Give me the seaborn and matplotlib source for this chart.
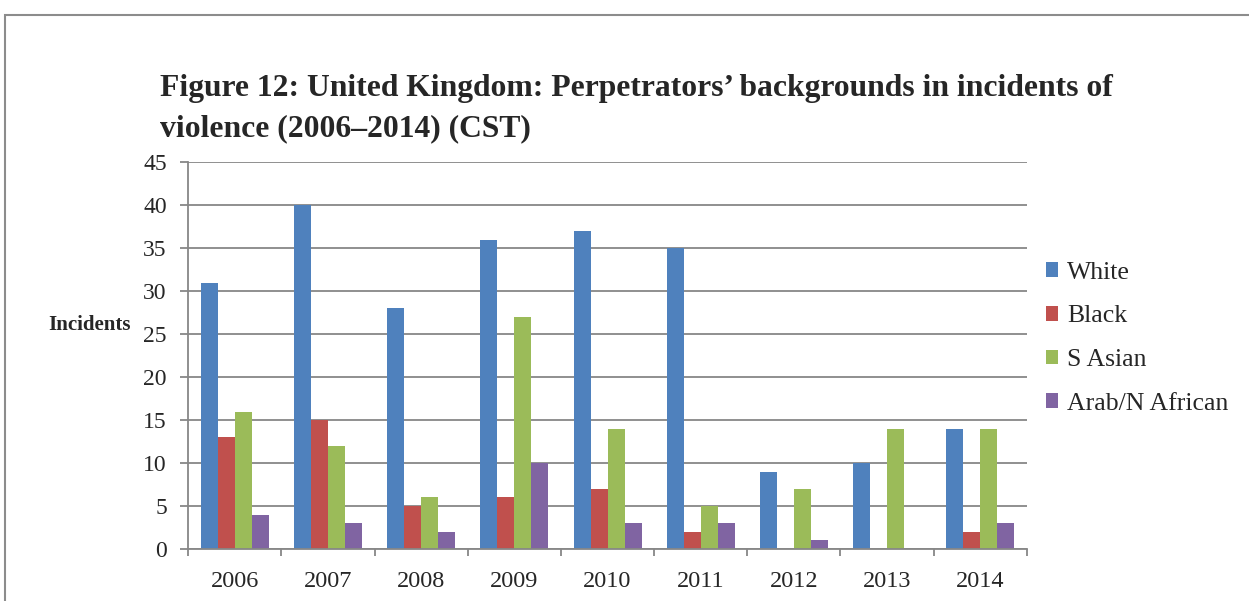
import seaborn as sns
import matplotlib.pyplot as plt
import pandas as pd
import numpy as np
from matplotlib.patches import Rectangle

years = ['2006', '2007', '2008', '2009', '2010', '2011', '2012', '2013', '2014']
white = [31, 40, 28, 36, 37, 35, 9, 10, 14]
black = [13, 15, 5, 6, 7, 2, 0, 0, 2]
s_asian = [16, 12, 6, 27, 14, 5, 7, 14, 14]
arab = [4, 3, 2, 10, 3, 3, 1, 0, 3]
groups = ['White', 'Black', 'S Asian', 'Arab/N African']
colors = ['#4F81BD', '#C0504D', '#9BBB59', '#8064A2']

data = pd.DataFrame({
    'year': years * 4,
    'group': np.repeat(groups, len(years)),
    'count': white + black + s_asian + arab,
})

sns.set_style('white')
plt.rcParams['font.family'] = ['Liberation Serif', 'DejaVu Serif']

fig = plt.figure(figsize=(12.49, 6.01), dpi=100)
ax = fig.add_axes([0.1508, 0.0865, 0.8220 - 0.1508, 0.7300 - 0.0865])

sns.barplot(data=data, x='year', y='count', hue='group', palette=colors,
            saturation=1, width=0.73, linewidth=0, ax=ax, legend=True)

grid_c = '#878787'
ax.set_ylim(0, 45)
ax.set_xlim(-0.5, len(years) - 0.5)
ax.set_yticks(np.arange(0, 46, 5))
ax.yaxis.grid(True, color=grid_c, linewidth=1.3)
ax.set_axisbelow(True)
for s in ['top', 'right']:
    ax.spines[s].set_visible(False)
for s in ['left', 'bottom']:
    ax.spines[s].set_color(grid_c)
    ax.spines[s].set_linewidth(1.3)

# category boundaries as major ticks, year labels on minor ticks
ax.set_xticks(np.arange(-0.5, len(years), 1))
ax.set_xticklabels([])
ax.set_xticks(np.arange(len(years)), minor=True)
ax.set_xticklabels(years, minor=True, fontsize=17.5)
ax.tick_params(axis='x', which='major', length=5, width=1.3, color=grid_c, direction='out', bottom=True)
ax.tick_params(axis='x', which='minor', length=0, pad=16)
ax.tick_params(axis='y', length=5.5, width=1.3, color=grid_c, direction='out', left=True,
               labelsize=17, pad=10)
ax.set_xlabel('')
ax.set_ylabel('')

leg = ax.legend(loc='center left', bbox_to_anchor=(0.995, 0.545), frameon=False,
                fontsize=18.5, handlelength=0.5, handleheight=0.5, handletextpad=0.35,
                labelspacing=0.84)

fig.text(48 / 1249, 1 - 325 / 601, 'Incidents', fontsize=15, fontweight='bold',
         ha='left', va='center')
fig.text(160 / 1249, 1 - 74 / 601,
         'Figure 12: United Kingdom: Perpetrators\u2019 backgrounds in incidents of\nviolence (2006\u20132014) (CST)',
         fontsize=22.8, fontweight='bold', ha='left', va='top', linespacing=1.5)

fig.patches.append(Rectangle((5 / 1249, -0.1), 1.2, 1 - 15 / 601 + 0.1,
                             transform=fig.transFigure, fill=False,
                             edgecolor='#8c8c8c', linewidth=1.5))

fig.savefig('out.png', dpi=100)
